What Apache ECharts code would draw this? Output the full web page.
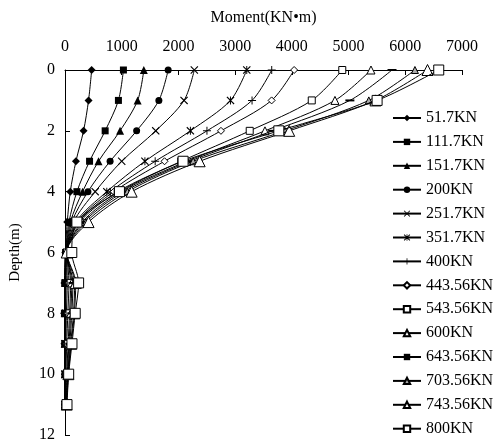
<!DOCTYPE html>
<html>
<head>
<meta charset="utf-8">
<script src="https://cdn.jsdelivr.net/npm/echarts@6/dist/echarts.min.js"></script>
<style>html,body{margin:0;padding:0;background:#fff;}#c{width:496px;height:443px;}</style>
</head>
<body>
<div id="c"></div>
<script>
var depths = [0, 1, 2, 3, 4, 5, 6, 7, 8, 9, 10, 11];
var seriesNames = ['51.7KN','111.7KN','151.7KN','200KN','251.7KN','351.7KN','400KN','443.56KN','543.56KN','600KN','643.56KN','703.56KN','743.56KN','800KN'];
var m51_7   = [470, 415, 327, 193, 93, 40, 5, -10, -15, -10, 0, 0];
var m111_7  = [1030, 942, 708, 433, 210, 70, 10, -5, -10, -5, 0, 0];
var m151_7  = [1390, 1281, 971, 591, 310, 95, 15, 0, -5, -5, 0, 0];
var m200    = [1819, 1655, 1263, 795, 404, 120, 20, 5, 0, 0, 0, 0];
var m251_7  = [2280, 2099, 1600, 1000, 532, 150, 25, 10, 5, 0, 0, 0];
var m351_7  = [3205, 2918, 2211, 1409, 737, 190, 30, 20, 10, 5, 0, 0];
var m400    = [3645, 3298, 2503, 1590, 800, 215, 30, 40, 25, 15, 5, 0];
var m443_56 = [4040, 3643, 2750, 1755, 860, 240, 35, 70, 50, 30, 15, 5];
var m543_56 = [4889, 4351, 3257, 2050, 930, 260, 35, 100, 80, 55, 30, 10];
var m600    = [5395, 4760, 3526, 2150, 990, 300, 35, 120, 100, 70, 40, 15];
var m643_56 = [5766, 5023, 3661, 2200, 1040, 330, 30, 140, 120, 85, 50, 20];
var m703_56 = [6170, 5357, 3877, 2260, 1100, 370, 30, 170, 150, 100, 55, 25];
var m743_56 = [6392, 5474, 3953, 2374, 1175, 415, 30, 190, 165, 110, 60, 30];
var m800    = [6590, 5503, 3770, 2082, 960, 210, 120, 240, 180, 123, 65, 35];
var moments = [m51_7, m111_7, m151_7, m200, m251_7, m351_7, m400, m443_56, m543_56, m600, m643_56, m703_56, m743_56, m800];
var xTicks = [0, 1000, 2000, 3000, 4000, 5000, 6000, 7000];
var yTicks = [0, 2, 4, 6, 8, 10, 12];

var CROSS = 'path://M0,1 L1,0 L5,4 L9,0 L10,1 L6,5 L10,9 L9,10 L5,6 L1,10 L0,9 L4,5 Z';
var STAR = 'path://M0,1 L1,0 L5,4 L9,0 L10,1 L6,5 L10,9 L9,10 L5,6 L1,10 L0,9 L4,5 Z M4.4,0 L5.6,0 L5.6,10 L4.4,10 Z';
var PLUS = 'path://M4.4,0 L5.6,0 L5.6,4.4 L10,4.4 L10,5.6 L5.6,5.6 L5.6,10 L4.4,10 L4.4,5.6 L0,5.6 L0,4.4 L4.4,4.4 Z';

var styles = [
  {symbol:'diamond', size:8, fill:'#000', border:0},
  {symbol:'rect', size:7, fill:'#000', border:0},
  {symbol:'triangle', size:8, fill:'#000', border:0},
  {symbol:'circle', size:7, fill:'#000', border:0},
  {symbol:CROSS, size:8, fill:'#000', border:0},
  {symbol:STAR, size:8, fill:'#000', border:0},
  {symbol:PLUS, size:8, fill:'#000', border:0},
  {symbol:'diamond', size:7, fill:'#fff', border:1},
  {symbol:'rect', size:7, fill:'#fff', border:1},
  {symbol:'triangle', size:8, fill:'#fff', border:1},
  {symbol:'rect', size:[9,2], fill:'#000', border:0},
  {symbol:'triangle', size:7, fill:'#aaa', border:1},
  {symbol:'triangle', size:11, fill:'#fff', border:1},
  {symbol:'rect', size:10, fill:'#fff', border:1}
];

var FONT = "'Liberation Serif','Times New Roman',serif";
var series = seriesNames.map(function (name, i) {
  var st = styles[i];
  return {
    name: name,
    type: 'line',
    smooth: 0.3,
    data: depths.map(function (d, j) { return [moments[i][j], d]; }),
    symbol: st.symbol,
    symbolSize: st.size,
    showAllSymbol: true,
    clip: false,
    lineStyle: {color: '#000', width: 1},
    itemStyle: {color: st.fill, borderColor: '#000', borderWidth: st.border},
    emphasis: {disabled: true},
    z: 2 + i
  };
});

var chart = echarts.init(document.getElementById('c'));
chart.setOption({
  animation: false,
  backgroundColor: '#fff',
  grid: {left: 63, top: 70, right: 34, bottom: 7},
  legend: {
    orient: 'vertical',
    left: 392,
    top: 110,
    padding: 0,
    itemWidth: 28,
    itemHeight: 8,
    itemGap: 7.9,
    textStyle: {fontFamily: FONT, fontSize: 16, color: '#000'},
    data: seriesNames
  },
  xAxis: {
    type: 'value',
    position: 'top',
    min: 0, max: 7000, interval: 1000,
    name: 'Moment(KN\u2022m)',
    nameLocation: 'middle',
    nameGap: 44,
    nameTextStyle: {fontFamily: FONT, fontSize: 16, color: '#000'},
    axisLine: {show: true, lineStyle: {color: '#000', width: 1}},
    axisTick: {show: true, inside: true, length: 5, lineStyle: {color: '#000'}},
    axisLabel: {fontFamily: FONT, fontSize: 16, color: '#000', margin: 15,
      formatter: function (v) { return xTicks.indexOf(v) >= 0 ? String(v) : ''; }},
    splitLine: {show: false}
  },
  yAxis: {
    type: 'value',
    position: 'left',
    inverse: true,
    min: 0, max: 12, interval: 2,
    name: 'Depth(m)',
    nameLocation: 'middle',
    nameGap: 42,
    nameRotate: 90,
    nameTextStyle: {fontFamily: FONT, fontSize: 15, color: '#000'},
    axisLine: {show: true, onZero: false, lineStyle: {color: '#000', width: 1}},
    axisTick: {show: true, inside: true, length: 5, lineStyle: {color: '#000'}},
    axisLabel: {inside: false, align: 'right', fontFamily: FONT, fontSize: 16, color: '#000', margin: 10,
      formatter: function (v) { return yTicks.indexOf(v) >= 0 ? String(v) : ''; }},
    splitLine: {show: false}
  },
  series: series
});
</script>
</body>
</html>
